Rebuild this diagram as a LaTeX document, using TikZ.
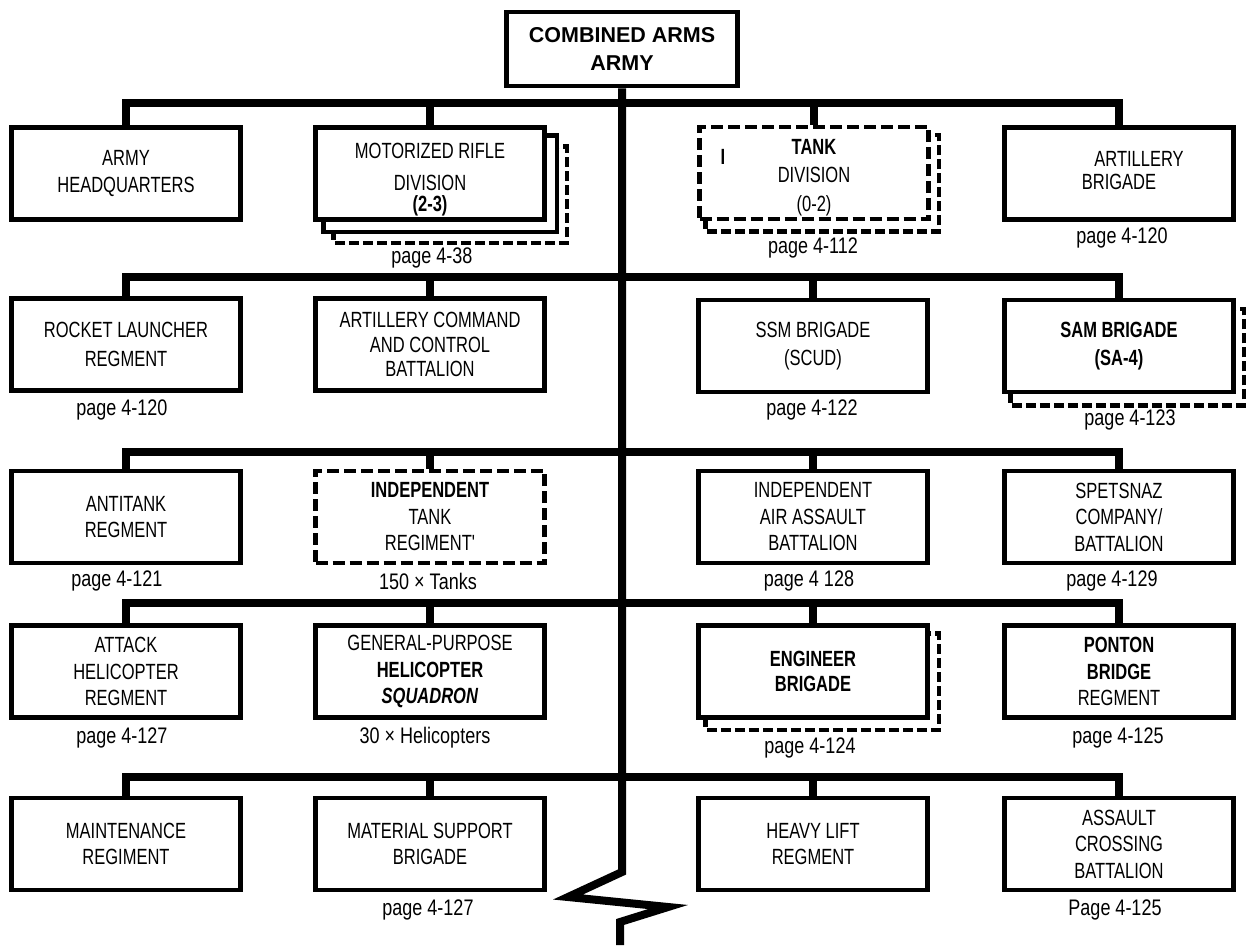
\documentclass[tikz,border=0pt]{standalone}
\usepackage{fontspec}
\setmainfont{Liberation Sans}
\newfontfamily\condf[FakeStretch=0.75]{Liberation Sans}
\newfontfamily\pagef[FakeStretch=0.8]{Liberation Sans}
\usetikzlibrary{backgrounds}
\begin{document}
\begin{tikzpicture}[x=1pt,y=-1pt,
  orgbox/.style={draw, line width=4.5pt, fill=white, minimum width=229pt, minimum height=92pt, inner sep=0pt, align=center, font=\condf\fontsize{22}{26.5}\selectfont},
  orgdbox/.style={orgbox, dash pattern=on 12pt off 5pt},
  boxtext/.style={inner sep=0pt, align=center, font=\condf\fontsize{22}{26.5}\selectfont},
  busline/.style={line width=8pt},
  pagelbl/.style={font=\pagef\fontsize{22.5}{26}\selectfont, inner sep=0pt},
  shadowsolid/.style={draw, line width=4.5pt, fill=white},
  shadowdash/.style={draw, line width=4.5pt, fill=white, dash pattern=on 10pt off 4pt},
]
\useasboundingbox (0,0) rectangle (1246,945);

% top
\node[orgbox, minimum width=231pt, minimum height=74pt, font=\bfseries\fontsize{21.5}{28}\selectfont] (caa) at (622,49) {COMBINED ARMS\\ARMY};

% row 1
\node[orgbox] (hq) at (126,173.5) {ARMY\\HEADQUARTERS};
\node[orgbox] (mrd) at (430,173.5) {};
\node[boxtext] (mrdt) at (430,180) {MOTORIZED RIFLE\\[5pt]DIVISION\\[-5pt]\textbf{(2-3)}};
\node[orgdbox] (tkd) at (814,173) {};
\node[boxtext] (tkdt) at (814,177.5) {\textbf{TANK}\\[2pt]DIVISION\\[2pt](0-2)};
\node[orgbox] (artb) at (1119,173.5) {};
\node[boxtext] (artbt) at (1119,170.5) {\hspace*{40pt}ARTILLERY\\[-4pt]BRIGADE};
\node[font=\condf\bfseries\fontsize{22}{26}\selectfont, inner sep=0pt] (stray) at (723,157) {I};

% row 2
\node[orgbox] (rlr) at (126,344.5) {ROCKET LAUNCHER\\[3pt]REGMENT};
\node[orgbox] (acc) at (430,344.5) {ARTILLERY COMMAND\\[-2pt]AND CONTROL\\[-2pt]BATTALION};
\node[orgbox] (ssm) at (813,346) {SSM BRIGADE\\[2pt](SCUD)};
\node[orgbox] (sam) at (1119,346) {\textbf{SAM BRIGADE}\\[2pt]\textbf{(SA-4)}};

% row 3
\node[orgbox] (atr) at (126,517) {ANTITANK\\REGMENT};
\node[orgdbox] (itr) at (430,517) {\textbf{INDEPENDENT}\\TANK\\REGIMENT'};
\node[orgbox] (iaab) at (813,517) {INDEPENDENT\\AIR ASSAULT\\BATTALION};
\node[orgbox] (spz) at (1119,517) {SPETSNAZ\\COMPANY/\\BATTALION};

% row 4
\node[orgbox] (ahr) at (126,671.5) {ATTACK\\HELICOPTER\\REGMENT};
\node[orgbox] (gph) at (430,671.5) {GENERAL-PURPOSE\\\textbf{HELICOPTER}\\\textbf{\itshape SQUADRON}};
\node[orgbox] (engb) at (813,671.5) {\textbf{ENGINEER}\\[-1pt]\textbf{BRIGADE}};
\node[orgbox] (pbr) at (1119,671.5) {\textbf{PONTON}\\\textbf{BRIDGE}\\REGMENT};

% row 5
\node[orgbox] (mr) at (126,844) {MAINTENANCE\\REGIMENT};
\node[orgbox] (msb) at (430,844) {MATERIAL SUPPORT\\BRIGADE};
\node[orgbox] (hlr) at (813,844) {HEAVY LIFT\\REGMENT};
\node[orgbox] (acb) at (1119,844) {ASSAULT\\CROSSING\\BATTALION};

% shadows
\begin{scope}[on background layer]
\draw[shadowdash] ([shift={(20,21)}]mrd.north west) rectangle ([shift={(20,21)}]mrd.south east);
\draw[shadowsolid] ([shift={(10,10)}]mrd.north west) rectangle ([shift={(10,10)}]mrd.south east);
\draw[shadowdash] ([shift={(8,10)}]tkd.north west) rectangle ([shift={(8,10)}]tkd.south east);
\draw[shadowdash] ([shift={(8,11)}]sam.north west) rectangle ([shift={(8,11)}]sam.south east);
\draw[shadowdash] ([shift={(9,10)}]engb.north west) rectangle ([shift={(9,10)}]engb.south east);
\end{scope}

% page labels
\node[pagelbl] (pmrd) at (432,258) {page 4-38};
\node[pagelbl] (ptkd) at (813,248) {page 4-112};
\node[pagelbl] (partb) at (1122,238) {page 4-120};
\node[pagelbl] (prlr) at (122,410) {page 4-120};
\node[pagelbl] (pssm) at (812,410) {page 4-122};
\node[pagelbl] (psam) at (1130,420) {page 4-123};
\node[pagelbl] (patr) at (117,581) {page 4-121};
\node[pagelbl] (pitr) at (428,581) {150 × Tanks};
\node[pagelbl] (piaab) at (809,581) {page 4 128};
\node[pagelbl] (pspz) at (1112,581) {page 4-129};
\node[pagelbl] (pahr) at (122,738) {page 4-127};
\node[pagelbl] (pgph) at (425,738) {30 × Helicopters};
\node[pagelbl] (pengb) at (810,748) {page 4-124};
\node[pagelbl] (ppbr) at (1118,738) {page 4-125};
\node[pagelbl] (pmsb) at (428,910) {page 4-127};
\node[pagelbl] (pacb) at (1115,910) {Page 4-125};

% bus coordinates
\coordinate (b1) at (622,103);
\coordinate (b2) at (622,277);
\coordinate (b3) at (622,452);
\coordinate (b4) at (622,603);
\coordinate (b5) at (622,777);
\coordinate (z1) at (622,872);
\coordinate (z2) at (568,897);
\coordinate (z3) at (668,907);
\coordinate (z4) at (620,922);
\coordinate (z5) at (620,945);

% spine
\draw[busline, line join=miter] (caa.south) -- (z1) -- (z2) -- (z3) -- (z4) -- (z5);

% buses
\draw[busline] (hq.north) -- (hq.north |- b1) -- (artb.north |- b1) -- (artb.north);
\draw[busline] (mrd.north) -- (mrd.north |- b1);
\draw[busline] (tkd.north) -- (tkd.north |- b1);

\draw[busline] (rlr.north) -- (rlr.north |- b2) -- (sam.north |- b2) -- (sam.north);
\draw[busline] (acc.north) -- (acc.north |- b2);
\draw[busline] (ssm.north) -- (ssm.north |- b2);

\draw[busline] (atr.north) -- (atr.north |- b3) -- (spz.north |- b3) -- (spz.north);
\draw[busline] (itr.north) -- (itr.north |- b3);
\draw[busline] (iaab.north) -- (iaab.north |- b3);

\draw[busline] (ahr.north) -- (ahr.north |- b4) -- (pbr.north |- b4) -- (pbr.north);
\draw[busline] (gph.north) -- (gph.north |- b4);
\draw[busline] (engb.north) -- (engb.north |- b4);

\draw[busline] (mr.north) -- (mr.north |- b5) -- (acb.north |- b5) -- (acb.north);
\draw[busline] (msb.north) -- (msb.north |- b5);
\draw[busline] (hlr.north) -- (hlr.north |- b5);
\end{tikzpicture}
\end{document}
